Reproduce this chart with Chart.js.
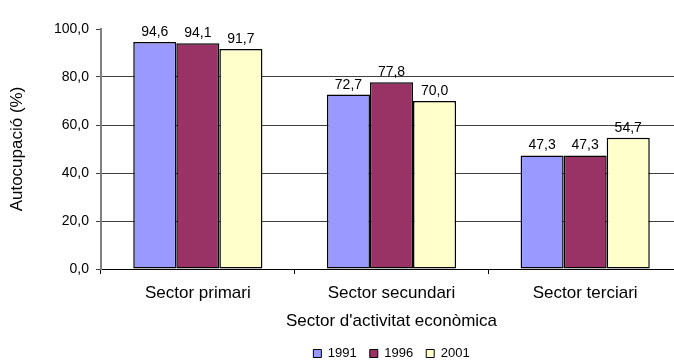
<!DOCTYPE html>
<html>
<head>
<meta charset="utf-8">
<script src="https://cdn.jsdelivr.net/npm/chart.js@4.4.0/dist/chart.umd.min.js"></script>
<style>
html,body{margin:0;padding:0;background:#fff;overflow:hidden;width:674px;height:360px;}
#c{position:absolute;left:0;top:0;width:700px;height:370px;}
</style>
</head>
<body>
<canvas id="c" width="700" height="370"></canvas>
<script>
const categories = ["Sector primari", "Sector secundari", "Sector terciari"];
const years = ["1991", "1996", "2001"];
const values1991 = [94.6, 72.7, 47.3];
const values1996 = [94.1, 77.8, 47.3];
const values2001 = [91.7, 70.0, 54.7];
const yTicks = [0, 20, 40, 60, 80, 100];
const colors = ["#9999FF", "#993366", "#FFFFCC"];

const fmt = v => Number(v).toFixed(1).replace('.', ',');
const FONT = "'Liberation Sans', Arial, sans-serif";

const labelPlugin = {
  id: 'barLabels',
  afterDatasetsDraw(chart) {
    const ctx = chart.ctx;
    ctx.save();
    ctx.font = "14px " + FONT;
    ctx.fillStyle = "#000";
    ctx.textAlign = "center";
    ctx.textBaseline = "alphabetic";
    chart.data.datasets.forEach((ds, i) => {
      chart.getDatasetMeta(i).data.forEach((bar, j) => {
        const p = bar.getProps(['x', 'y'], true);
        ctx.fillText(fmt(ds.data[j]), p.x, p.y - 6);
      });
    });
    ctx.restore();
  }
};

const legendCenter = {
  id: 'legendCenter',
  afterLayout(chart) {
    const lg = chart.legend;
    if (lg) { lg.left = chart.chartArea.left; lg.right = chart.chartArea.right; }
  }
};

new Chart(document.getElementById('c'), {
  type: 'bar',
  data: {
    labels: categories,
    datasets: [
      {label: years[0], data: values1991, backgroundColor: colors[0]},
      {label: years[1], data: values1996, backgroundColor: colors[1]},
      {label: years[2], data: values2001, backgroundColor: colors[2]}
    ].map(d => Object.assign(d, {borderColor: '#000', borderWidth: 1.5, borderSkipped: false, categoryPercentage: 0.667, barPercentage: 1}))
  },
  options: {
    responsive: false,
    animation: false,
    devicePixelRatio: 1,
    layout: {padding: {top: 29, right: 18, left: 0, bottom: 0}},
    plugins: {
      legend: {
        position: 'bottom',
        labels: {
          font: {family: FONT, size: 13},
          color: '#000',
          boxWidth: 8, boxHeight: 8,
          padding: 13,
          generateLabels(chart) {
            return chart.data.datasets.map((d, i) => ({
              text: d.label, fillStyle: d.backgroundColor, strokeStyle: '#000', lineWidth: 1, datasetIndex: i, hidden: false
            }));
          }
        }
      },
      tooltip: {enabled: false}
    },
    scales: {
      x: {
        offset: true,
        afterFit(scale) { scale.height = 65; },
        grid: {offset: true, drawOnChartArea: false, tickLength: 5, color: '#000'},
        border: {color: '#000', width: 1},
        ticks: {font: {family: FONT, size: 17}, color: '#000', padding: 9, maxRotation: 0},
        title: {display: true, text: "Sector d'activitat econòmica", font: {family: FONT, size: 17}, color: '#000', padding: {top: 0, bottom: 2}}
      },
      y: {
        min: 0, max: 100,
        afterFit(scale) { scale.width = 101; },
        afterBuildTicks(scale) { scale.ticks = yTicks.map(v => ({value: v})); },
        grid: {
          color: ctx => (ctx.tick && ctx.tick.value === 100) ? 'rgba(0,0,0,0)' : (ctx.tick && ctx.tick.value === 0 ? '#000' : '#404040'),
          tickColor: '#404040',
          tickLength: 5
        },
        border: {color: '#808080', width: 2},
        ticks: {font: {family: FONT, size: 14}, color: '#000', padding: 7, callback: v => fmt(v)},
        title: {display: true, text: "Autocupació (%)", font: {family: FONT, size: 17}, color: '#000', padding: {top: 7, bottom: 0}}
      }
    }
  },
  plugins: [labelPlugin, legendCenter]
});
</script>
</body>
</html>
